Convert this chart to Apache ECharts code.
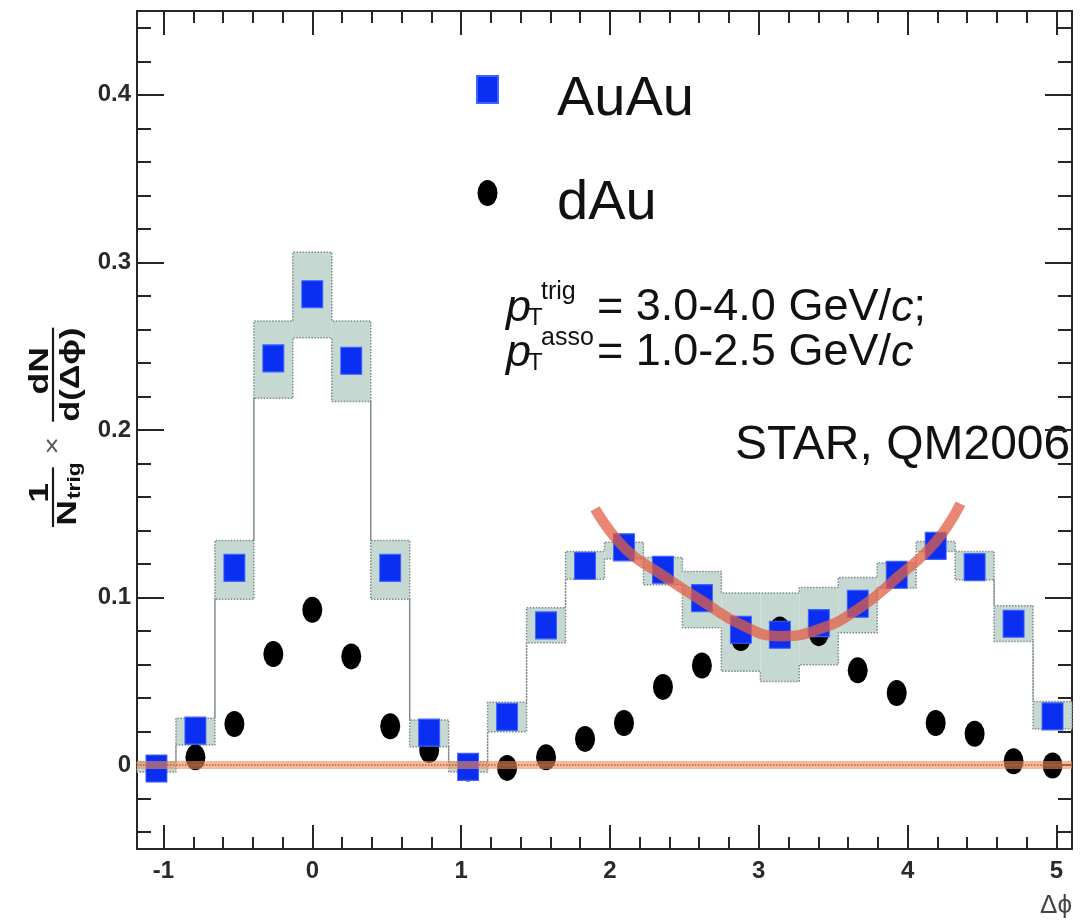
<!DOCTYPE html>
<html>
<head>
<meta charset="utf-8">
<script src="https://cdn.jsdelivr.net/npm/echarts@6/dist/echarts.min.js"></script>
<style>
  html, body { margin: 0; padding: 0; background: #ffffff; }
  #chart { width: 1086px; height: 923px; }
</style>
</head>
<body>
<div id="chart"></div>
<script>
// Δϕ bin centres (bin width π/12)
const binCenters = [-1.0472, -0.7854, -0.5236, -0.2618, 0, 0.2618, 0.5236, 0.7854,
  1.0472, 1.3090, 1.5708, 1.8326, 2.0944, 2.3562, 2.6180, 2.8798, 3.1416, 3.4034,
  3.6652, 3.9270, 4.1888, 4.4506, 4.7124, 4.9742];
const binWidth = 0.2618;

// Au+Au per-trigger yield and its systematic band
const auau = [-0.002, 0.0206, 0.1177, 0.2427, 0.281, 0.2413, 0.1177, 0.0194,
  -0.001, 0.0288, 0.0834, 0.119, 0.130, 0.1166, 0.0997, 0.0808, 0.0778, 0.0848,
  0.0963, 0.1136, 0.1309, 0.1182, 0.0844, 0.0291];
const auauSysLow = [-0.004, 0.012, 0.099, 0.219, 0.255, 0.217, 0.099, 0.011,
  -0.004, 0.020, 0.073, 0.111, 0.123, 0.1076, 0.082, 0.056, 0.050, 0.060,
  0.079, 0.1057, 0.1275, 0.1106, 0.0738, 0.0216];
const auauSysHigh = [0.002, 0.028, 0.134, 0.265, 0.306, 0.265, 0.134, 0.027,
  0.002, 0.0375, 0.094, 0.1275, 0.133, 0.124, 0.1156, 0.1027, 0.1027, 0.106,
  0.112, 0.1206, 0.1334, 0.1275, 0.0951, 0.038];

// d+Au per-trigger yield
const dau = [-0.002, 0.0047, 0.0246, 0.0663, 0.0927, 0.0649, 0.0232, 0.0090,
  -0.002, -0.0016, 0.0047, 0.0157, 0.0252, 0.0467, 0.0595, 0.0759, 0.081, 0.0788,
  0.0566, 0.0431, 0.0252, 0.0188, 0.0023, -0.0002];

// hand-drawn away-side dip guide
const awaySideCurve = [[1.90, 0.153], [2.10, 0.1295], [2.36, 0.113], [2.62, 0.098],
  [2.88, 0.084], [3.14, 0.077], [3.40, 0.081], [3.665, 0.093], [3.93, 0.112],
  [4.19, 0.1334], [4.355, 0.156]];

// axis ticks
const xMajorTicks = [-1, 0, 1, 2, 3, 4, 5];
const xMinorTicks = [-0.8, -0.6, -0.4, -0.2, 0.2, 0.4, 0.6, 0.8, 1.2, 1.4, 1.6, 1.8,
  2.2, 2.4, 2.6, 2.8, 3.2, 3.4, 3.6, 3.8, 4.2, 4.4, 4.6, 4.8, 5.0];
const yMajorTicks = [0, 0.1, 0.2, 0.3, 0.4];
const yMinorTicks = [-0.04, -0.02, 0.02, 0.04, 0.06, 0.08, 0.12, 0.14, 0.16, 0.18,
  0.22, 0.24, 0.26, 0.28, 0.32, 0.34, 0.36, 0.38, 0.42, 0.44];

const X_MIN = -1.178, X_MAX = 5.105, Y_MIN = -0.05, Y_MAX = 0.45;
const AXIS_COLOR = '#262626';
const FONT = 'Liberation Sans, Arial, Helvetica, sans-serif';

// systematic boxes and their outline (upper edge left→right, lower edge back)
const boxData = binCenters.map((x, i) => [x, auauSysLow[i], auauSysHigh[i]]);
const outline = [];
binCenters.forEach((x, i) => {
  outline.push([x - binWidth / 2, auauSysHigh[i]], [x + binWidth / 2, auauSysHigh[i]]);
});
for (let i = binCenters.length - 1; i >= 0; i--) {
  outline.push([binCenters[i] + binWidth / 2, auauSysLow[i]], [binCenters[i] - binWidth / 2, auauSysLow[i]]);
}
outline.push(outline[0]);

function xAxis(position, ticks, tickLen, main) {
  return {
    type: 'value', position: position, min: X_MIN, max: X_MAX,
    axisLine: { show: main, onZero: false, lineStyle: { color: AXIS_COLOR, width: 2 } },
    axisTick: { show: true, inside: true, length: tickLen, customValues: ticks,
      lineStyle: { color: AXIS_COLOR, width: 2 } },
    axisLabel: (main && position === 'bottom') ? {
      show: true, customValues: xMajorTicks, margin: 10,
      fontFamily: FONT, fontWeight: 'bold', fontSize: 24, color: '#2a2a2a'
    } : { show: false },
    splitLine: { show: false }
  };
}
function yAxis(position, ticks, tickLen, main) {
  return {
    type: 'value', position: position, min: Y_MIN, max: Y_MAX,
    axisLine: { show: main, onZero: false, lineStyle: { color: AXIS_COLOR, width: 2 } },
    axisTick: { show: true, inside: true, length: tickLen, customValues: ticks,
      lineStyle: { color: AXIS_COLOR, width: 2 } },
    axisLabel: (main && position === 'left') ? {
      show: true, customValues: yMajorTicks, margin: 6,
      fontFamily: FONT, fontWeight: 'bold', fontSize: 24, color: '#2a2a2a'
    } : { show: false },
    splitLine: { show: false }
  };
}

const xAxes = [
  xAxis('bottom', xMajorTicks, 24, true),
  xAxis('bottom', xMinorTicks, 12, false),
  xAxis('top', xMajorTicks, 24, true),
  xAxis('top', xMinorTicks, 12, false)
];
xAxes[0].name = 'Δϕ';
xAxes[0].nameLocation = 'end';
xAxes[0].nameGap = 0;
xAxes[0].nameTextStyle = { fontFamily: FONT, fontSize: 26, color: '#444', align: 'right',
  verticalAlign: 'top', padding: [44, 0, 0, 0] };

const yAxes = [
  yAxis('left', yMajorTicks, 27, true),
  yAxis('left', yMinorTicks, 14, false),
  yAxis('right', yMajorTicks, 27, true),
  yAxis('right', yMinorTicks, 14, false)
];

const textBlack = '#111111';
function txt(x, y, text, size, extra) {
  return { type: 'text', x: x, y: y, silent: true,
    style: Object.assign({ text: text, fontSize: size, fontFamily: FONT, fill: textBlack,
      align: 'left', verticalAlign: 'middle' }, extra || {}) };
}
const italicC = { i: { fontStyle: 'italic', fontSize: 45, fontFamily: FONT, fill: textBlack } };

const option = {
  animation: false,
  backgroundColor: '#ffffff',
  grid: { left: 137, right: 14, top: 11, bottom: 74, containLabel: false, outerBoundsMode: 'none' },
  xAxis: xAxes,
  yAxis: yAxes,
  legend: {
    // icon box is taller than the marker (trailing move-to) so the label sits a bit lower
    orient: 'vertical', left: 476, top: 70, itemWidth: 21, itemHeight: 48, itemGap: 44,
    selectedMode: false, symbolKeepAspect: true, padding: 0,
    textStyle: { fontSize: 56, fontFamily: FONT, color: textBlack, lineHeight: 60,
      padding: [0, 0, 0, 54] },
    data: [
      { name: 'AuAu', icon: 'path://M0,0H21V27H0Z M0,48' },
      { name: 'dAu', icon: 'path://M0,13A10,13,0,1,0,20,13A10,13,0,1,0,0,13Z M0,48' }
    ]
  },
  series: [
    {
      name: 'AuAu syst.', type: 'custom', z: 1, silent: true,
      encode: { x: 0, y: [1, 2] },
      data: boxData,
      renderItem: function (params, api) {
        const x = api.value(0);
        const p1 = api.coord([x - binWidth / 2, api.value(2)]);
        const p2 = api.coord([x + binWidth / 2, api.value(1)]);
        return { type: 'rect',
          shape: { x: p1[0], y: p1[1], width: p2[0] - p1[0], height: p2[1] - p1[1] },
          style: { fill: '#c5d8d2' } };
      }
    },
    {
      name: 'AuAu syst. outline', type: 'line', z: 2, silent: true,
      data: outline, symbol: 'none',
      lineStyle: { type: 'dotted', width: 1.5, color: '#7c8c88' }
    },
    {
      name: 'dAu', type: 'scatter', z: 3,
      data: binCenters.map((x, i) => [x, dau[i]]),
      symbol: 'circle', symbolSize: [20, 26],
      itemStyle: { color: '#000000', opacity: 1 }
    },
    {
      name: 'AuAu', type: 'scatter', z: 4,
      data: binCenters.map((x, i) => [x, auau[i]]),
      symbol: 'rect', symbolSize: [21, 27],
      itemStyle: { color: '#0b2ff2', borderColor: '#3f63ff', borderWidth: 1, opacity: 1 }
    },
    {
      name: 'zero', type: 'line', z: 5, silent: true, data: [], symbol: 'none',
      markLine: {
        silent: true, symbol: 'none', label: { show: false },
        data: [
          { yAxis: 0, lineStyle: { color: 'rgba(242,140,85,0.6)', width: 8, type: 'solid' } },
          { yAxis: 0, lineStyle: { color: '#b8604a', width: 1.5, type: 'dotted' } }
        ]
      }
    },
    {
      name: 'away-side guide', type: 'line', z: 6, silent: true,
      data: awaySideCurve, smooth: 0.5, symbol: 'none',
      lineStyle: { color: 'rgba(226,95,70,0.75)', width: 10.5, cap: 'butt' }
    }
  ],
  graphic: [
    {
      // y-axis title: 1/N_trig × dN/d(Δϕ), rotated
      type: 'group', x: 55, y: 428, rotation: Math.PI / 2, scaleX: 1.27, silent: true,
      children: [
        txt(-51, -15, '1', 28, { fontWeight: 'bold', align: 'center' }),
        { type: 'line', shape: { x1: -78, y1: -2, x2: -31, y2: -2 }, style: { stroke: '#1a1a1a', lineWidth: 2.2 } },
        txt(-77, 13, 'N', 28, { fontWeight: 'bold' }),
        txt(-56, 20, 'trig', 18, { fontWeight: 'bold' }),
        txt(-14, -2, '×', 24, { align: 'center', fill: '#555' }),
        txt(45, -15, 'dN', 28, { fontWeight: 'bold', align: 'center' }),
        { type: 'line', shape: { x1: 5, y1: -2, x2: 79, y2: -2 }, style: { stroke: '#1a1a1a', lineWidth: 2.2 } },
        txt(42, 17, 'd(Δϕ)', 27, { fontWeight: 'bold', align: 'center' })
      ]
    },
    // kinematic selection
    txt(506, 308, 'p', 45, { fontStyle: 'italic' }),
    txt(528, 318, 'T', 24),
    txt(541, 292, 'trig', 25),
    txt(597, 308, '= 3.0-4.0 GeV/{i|c};', 45, { rich: italicC }),
    txt(506, 353, 'p', 45, { fontStyle: 'italic' }),
    txt(528, 363, 'T', 24),
    txt(541, 338, 'asso', 25),
    txt(597, 353, '= 1.0-2.5 GeV/{i|c}', 45, { rich: italicC }),
    txt(735, 446, 'STAR, QM2006', 48)
  ]
};

const chart = echarts.init(document.getElementById('chart'), null, { renderer: 'canvas' });
chart.setOption(option);
</script>
</body>
</html>
